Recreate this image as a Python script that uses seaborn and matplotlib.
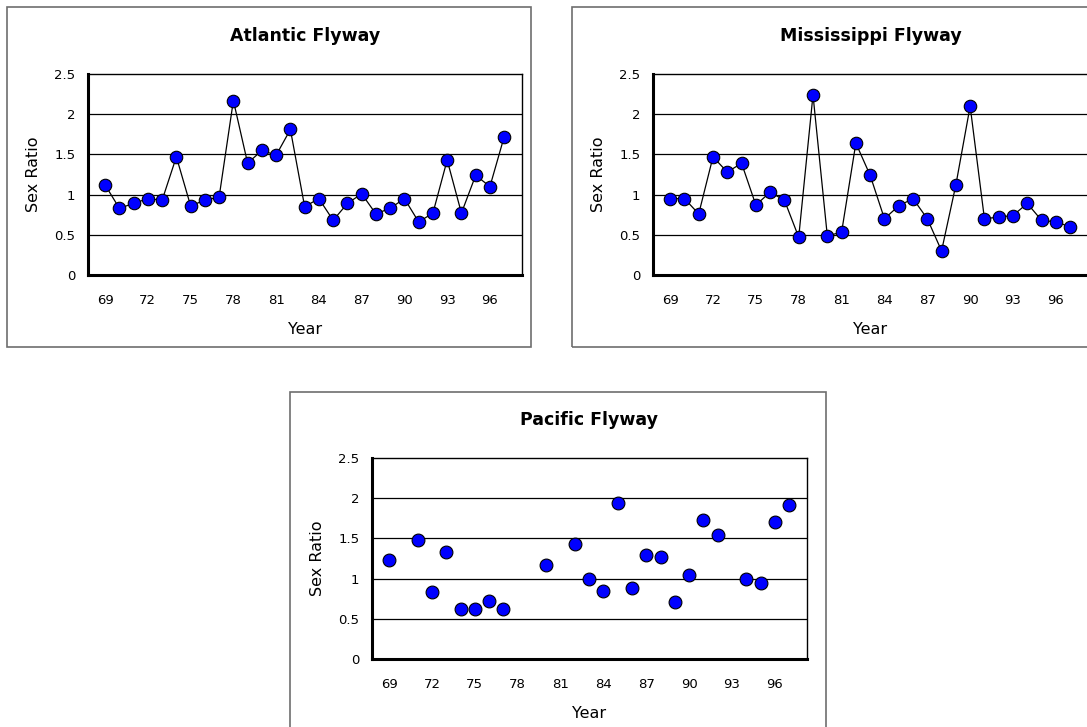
import matplotlib
matplotlib.use("Agg")
import matplotlib.pyplot as plt
from matplotlib.patches import Rectangle
import seaborn as sns
import pandas as pd

sns.set_theme(style="white")
plt.rcParams['font.family'] = ['DejaVu Sans']
plt.rcParams['text.color'] = 'black'
plt.rcParams['axes.labelcolor'] = 'black'
plt.rcParams['xtick.color'] = 'black'
plt.rcParams['ytick.color'] = 'black'

# ---- data ----
years = list(range(69, 98))
atlantic = [1.12, 0.83, 0.89, 0.95, 0.93, 1.47, 0.86, 0.93, 0.97, 2.17, 1.39, 1.55, 1.49, 1.81,
            0.85, 0.95, 0.68, 0.89, 1.01, 0.76, 0.83, 0.95, 0.66, 0.77, 1.43, 0.77, 1.24, 1.10, 1.72]
mississippi = [0.95, 0.95, 0.76, 1.47, 1.28, 1.39, 0.87, 1.03, 0.93, 0.47, 2.24, 0.49, 0.53, 1.64,
               1.24, 0.70, 0.86, 0.95, 0.70, 0.30, 1.12, 2.10, 0.70, 0.72, 0.74, 0.89, 0.68, 0.66, 0.60]
pacific_years = [69, 71, 72, 73, 74, 75, 76, 77, 80, 82, 83, 84, 85, 86, 87, 88, 89, 90, 91, 92, 94, 95, 96, 97]
pacific = [1.23, 1.48, 0.83, 1.33, 0.62, 0.62, 0.72, 0.62, 1.17, 1.43, 1.00, 0.85, 1.94, 0.88,
           1.29, 1.27, 0.71, 1.04, 1.73, 1.54, 1.00, 0.95, 1.71, 1.92]
xtick_labels = ["69", "72", "75", "78", "81", "84", "87", "90", "93", "96"]
yticks = [0, 0.5, 1, 1.5, 2, 2.5]
ytick_labels = ["0", "0.5", "1", "1.5", "2", "2.5"]
titles = ["Atlantic Flyway", "Mississippi Flyway", "Pacific Flyway"]

W, H = 1087, 727
fig = plt.figure(figsize=(W / 100, H / 100), dpi=100)
fig.patch.set_facecolor("white")


def px_axes(x0, y0, x1, y1):
    return fig.add_axes([x0 / W, 1 - y1 / H, (x1 - x0) / W, (y1 - y0) / H])


def px_box(x0, y0, x1, y1):
    fig.patches.append(Rectangle((x0 / W, 1 - y1 / H), (x1 - x0) / W, (y1 - y0) / H,
                                 transform=fig.transFigure, fill=False,
                                 edgecolor="#6e6e6e", lw=1.2, zorder=0))


def style(ax, title):
    ax.set_xlim(67.8, 98.25)
    ax.set_ylim(0, 2.5)
    ax.set_yticks(yticks)
    ax.set_yticklabels(ytick_labels, fontsize=9.5)
    ax.set_xticks([int(t) for t in xtick_labels])
    ax.set_xticklabels(xtick_labels, fontsize=9.5)
    ax.tick_params(axis="both", length=0)
    ax.tick_params(axis="x", pad=14)
    ax.tick_params(axis="y", pad=9)
    for y in yticks[1:-1]:
        ax.axhline(y, color="black", lw=0.9, zorder=1)
    for s in ["top", "right"]:
        ax.spines[s].set_color("black")
        ax.spines[s].set_linewidth(1.0)
    for s in ["left", "bottom"]:
        ax.spines[s].set_color("black")
        ax.spines[s].set_linewidth(2.2)
    ax.set_title(title, fontsize=12.5, fontweight="bold", y=1.19, pad=0,
                 va="center", color="black")
    ax.set_xlabel("Year", fontsize=11.5)
    ax.xaxis.set_label_coords(0.5, -0.27)
    ax.xaxis.label.set_va("center")
    ax.set_ylabel("Sex Ratio", fontsize=11.5)
    ax.yaxis.set_label_coords(-0.125, 0.5)
    ax.yaxis.label.set_va("center")
    ax.set_facecolor("white")


# Outer chart boxes
px_box(7, 7, 531, 347)
px_box(572, 7, 1100, 347)
px_box(290, 392, 826, 740)

marker_kw = dict(marker="o", markersize=9.0, markerfacecolor="#0000FF",
                 markeredgecolor="black", markeredgewidth=0.8)

ax1 = px_axes(88, 74, 522, 275)
df1 = pd.DataFrame({"Year": years, "Ratio": atlantic})
sns.lineplot(data=df1, x="Year", y="Ratio", ax=ax1, color="black", lw=0.9, zorder=3, **marker_kw)
style(ax1, titles[0])

ax2 = px_axes(653, 74, 1088, 275)
df2 = pd.DataFrame({"Year": years, "Ratio": mississippi})
sns.lineplot(data=df2, x="Year", y="Ratio", ax=ax2, color="black", lw=0.9, zorder=3, **marker_kw)
style(ax2, titles[1])

ax3 = px_axes(372, 458, 807, 659)
df3 = pd.DataFrame({"Year": pacific_years, "Ratio": pacific})
sns.scatterplot(data=df3, x="Year", y="Ratio", ax=ax3, s=85, color="#0000FF",
                edgecolor="black", linewidth=0.8, zorder=3)
style(ax3, titles[2])

fig.savefig("out.png", dpi=100, facecolor="white")
